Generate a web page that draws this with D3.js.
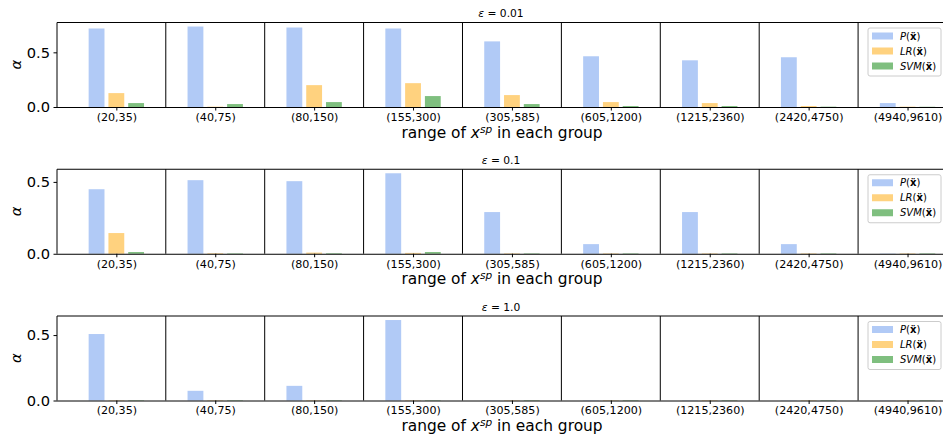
<!DOCTYPE html>
<html>
<head>
<meta charset="utf-8">
<script src="https://cdn.jsdelivr.net/npm/d3@7"></script>
<style>
  html, body { margin: 0; padding: 0; background: #fff; }
  svg { display: block; font-family: "DejaVu Sans", sans-serif; }
</style>
</head>
<body>
<svg id="chart" width="943" height="437"></svg>
<script>
// Ranges of x^sp used to group the samples
const groups = ["(20,35)", "(40,75)", "(80,150)", "(155,300)", "(305,585)",
                "(605,1200)", "(1215,2360)", "(2420,4750)", "(4940,9610)"];

// One panel per privacy budget epsilon
const epsilons = ["0.01", "0.1", "1.0"];

// Attack advantage alpha per group, epsilon = 0.01
const pEps001   = [0.718, 0.736, 0.727, 0.718, 0.600, 0.464, 0.427, 0.455, 0.036];
const lrEps001  = [0.127, 0.003, 0.200, 0.218, 0.109, 0.045, 0.036, 0.009, 0.003];
const svmEps001 = [0.036, 0.027, 0.045, 0.100, 0.027, 0.009, 0.009, 0.003, 0.002];

// epsilon = 0.1
const pEps01   = [0.449, 0.512, 0.505, 0.560, 0.290, 0.067, 0.290, 0.067, 0.002];
const lrEps01  = [0.144, 0.004, 0.008, 0.006, 0.003, 0.003, 0.003, 0.003, 0.003];
const svmEps01 = [0.012, 0.003, 0.004, 0.012, 0.003, 0.003, 0.003, 0.003, 0.003];

// epsilon = 1.0
const pEps1   = [0.508, 0.074, 0.112, 0.615, 0.002, 0.002, 0.002, 0.002, 0.002];
const lrEps1  = [0.003, 0.003, 0.003, 0.003, 0.003, 0.003, 0.003, 0.003, 0.003];
const svmEps1 = [0.003, 0.003, 0.003, 0.003, 0.003, 0.003, 0.003, 0.003, 0.003];

const yTicks = [0.0, 0.5];

const seriesNames = ["P", "LR", "SVM"];
const seriesColors = ["rgba(100,149,237,0.5)", "rgba(255,165,0,0.5)", "rgba(0,128,0,0.5)"];

const panels = [
  { eps: epsilons[0], series: [pEps001, lrEps001, svmEps001] },
  { eps: epsilons[1], series: [pEps01, lrEps01, svmEps01] },
  { eps: epsilons[2], series: [pEps1, lrEps1, svmEps1] }
];

const svg = d3.select("#chart");

const left = 57, right = 947.1;
const panelTop0 = 22.5, panelStep = 146.75, panelH = 84.5;
const barW = 0.16, offsets = [-0.2, 0, 0.2];

const x = d3.scaleLinear().domain([-0.6, 8.4]).range([left, right]);

panels.forEach((panel, pi) => {
  const top = panelTop0 + pi * panelStep;
  const bottom = top + panelH;
  const ymax = d3.max(panel.series.flat()) * 1.05;
  const y = d3.scaleLinear().domain([0, ymax]).range([bottom, top]);

  const g = svg.append("g");

  // Bars
  panel.series.forEach((vals, si) => {
    g.append("g").selectAll("rect").data(vals).join("rect")
      .attr("x", (d, i) => x(i + offsets[si] - barW / 2))
      .attr("width", x(barW) - x(0))
      .attr("y", d => y(d))
      .attr("height", d => y(0) - y(d))
      .attr("fill", seriesColors[si]);
  });

  // Group separators
  g.append("g").selectAll("line").data(d3.range(groups.length - 1)).join("line")
    .attr("x1", d => x(d + 0.5)).attr("x2", d => x(d + 0.5))
    .attr("y1", top).attr("y2", bottom)
    .attr("stroke", "#000").attr("stroke-width", 1);

  // Frame
  g.append("line").attr("x1", left).attr("x2", right).attr("y1", top).attr("y2", top)
    .attr("stroke", "#000").attr("stroke-width", 1);
  g.append("line").attr("x1", left).attr("x2", left).attr("y1", top).attr("y2", bottom)
    .attr("stroke", "#000").attr("stroke-width", 1);
  g.append("line").attr("x1", right).attr("x2", right).attr("y1", top).attr("y2", bottom)
    .attr("stroke", "#000").attr("stroke-width", 1);

  // X axis
  const xAxis = d3.axisBottom(x)
    .tickValues(d3.range(groups.length))
    .tickFormat(i => groups[i])
    .tickSize(3.5).tickSizeOuter(0).tickPadding(2.5);
  const xa = g.append("g").attr("transform", `translate(0,${bottom})`).call(xAxis);
  xa.select(".domain").attr("d", `M${left},0.5H${right}`).attr("stroke", "#000");
  xa.selectAll(".tick line").attr("stroke", "#000");
  xa.selectAll(".tick text").attr("font-size", "11.1px").attr("font-family", "DejaVu Sans").attr("fill", "#000");

  // Y axis
  const yAxis = d3.axisLeft(y).tickValues(yTicks).tickFormat(d3.format(".1f"))
    .tickSize(3.5).tickSizeOuter(0).tickPadding(3.5);
  const ya = g.append("g").attr("transform", `translate(${left},0)`).call(yAxis);
  ya.select(".domain").remove();
  ya.selectAll(".tick line").attr("stroke", "#000");
  ya.selectAll(".tick text").attr("font-size", "14.67px").attr("font-family", "DejaVu Sans").attr("fill", "#000");

  // Y label
  g.append("text")
    .attr("transform", `translate(21,${(top + bottom) / 2}) rotate(-90)`)
    .attr("text-anchor", "middle")
    .attr("font-size", "14.67px").attr("font-style", "italic")
    .text("α");

  // X label
  const xl = g.append("text")
    .attr("x", (left + 945) / 2 + 1).attr("y", bottom + 30.5)
    .attr("text-anchor", "middle").attr("font-size", "15.4px");
  xl.append("tspan").text("range of ");
  xl.append("tspan").attr("font-style", "italic").text("x");
  xl.append("tspan").attr("font-style", "italic").attr("font-size", "10.5px").attr("dy", -5).text("sp");
  xl.append("tspan").attr("dy", 5).text(" in each group");

  // Title
  const tt = g.append("text")
    .attr("x", (left + 945) / 2).attr("y", top - 5.5)
    .attr("text-anchor", "middle").attr("font-size", "10.7px");
  tt.append("tspan").attr("font-style", "italic").text("ε");
  tt.append("tspan").text(" = " + panel.eps);

  // Legend
  const lx = 868, ly = top + 5.5;
  const lg = g.append("g").attr("transform", `translate(${lx},${ly})`);
  lg.append("rect").attr("x", 0).attr("y", 0).attr("width", 73).attr("height", 48)
    .attr("rx", 2).attr("fill", "rgba(255,255,255,0.8)").attr("stroke", "#cccccc").attr("stroke-width", 1);
  seriesNames.forEach((name, si) => {
    const cy = 8 + si * 15;
    lg.append("rect").attr("x", 4).attr("y", cy - 3.5).attr("width", 21).attr("height", 7)
      .attr("fill", seriesColors[si]);
    const t = lg.append("text").attr("x", 32).attr("y", cy + 3.7).attr("font-size", "10px");
    t.append("tspan").attr("font-style", "italic").text(name);
    t.append("tspan").text("(");
    t.append("tspan").attr("font-weight", "bold").text("x\u0308");
    t.append("tspan").text(")");
  });
});
</script>
</body>
</html>
